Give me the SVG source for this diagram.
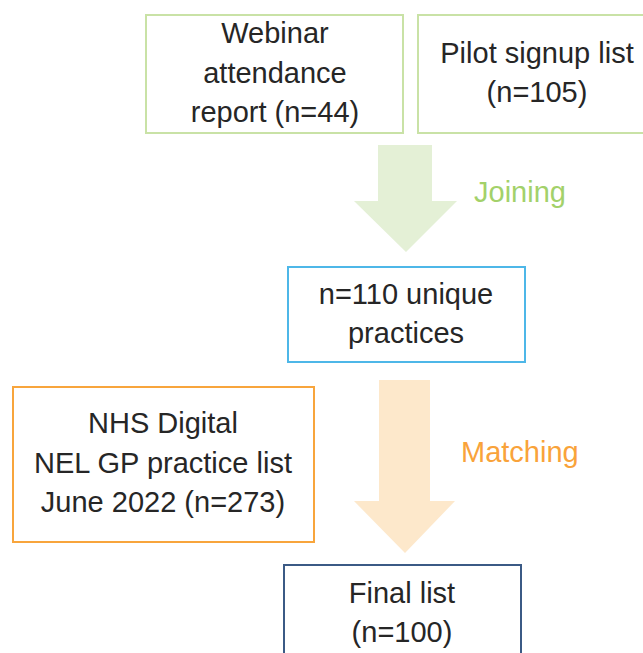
<svg xmlns="http://www.w3.org/2000/svg" width="643" height="653" viewBox="0 0 643 653">
  <style>
    .box { fill: #ffffff; stroke-width: 2; }
    .label { font-family: "Liberation Sans", Arial, sans-serif; font-size: 29px; fill: #262626; text-anchor: middle; }
    .step { font-family: "Liberation Sans", Arial, sans-serif; font-size: 29px; }
  </style>
  <rect width="643" height="653" fill="#ffffff"/>

  <!-- flow arrows -->
  <g id="connectors">
    <polygon points="378,145 432,145 432,201 457,201 406,252 354,201 378,201" fill="#E4F0D6"/>
    <polygon points="379,380 430,380 430,501 455,501 405,553 354,501 379,501" fill="#FDE8CB"/>
    <text class="step" x="474" y="202" fill="#A3D16A">Joining</text>
    <text class="step" x="461" y="462" fill="#F9A33A">Matching</text>
  </g>

  <g id="webinar">
    <rect class="box" x="146" y="15" width="257" height="118" stroke="#C9E2A6"/>
    <text class="label" x="275" y="43">Webinar</text>
    <text class="label" x="275" y="83">attendance</text>
    <text class="label" x="275" y="122">report (n=44)</text>
  </g>

  <g id="pilot">
    <rect class="box" x="418" y="15" width="250" height="118" stroke="#C9E2A6"/>
    <text class="label" x="537" y="63">Pilot signup list</text>
    <text class="label" x="537" y="102">(n=105)</text>
  </g>

  <g id="unique">
    <rect class="box" x="288" y="267" width="237" height="95" stroke="#4DB7E8"/>
    <text class="label" x="406" y="304">n=110 unique</text>
    <text class="label" x="406" y="343">practices</text>
  </g>

  <g id="nhs">
    <rect class="box" x="13" y="387" width="301" height="155" stroke="#F8A53C"/>
    <text class="label" x="163" y="433">NHS Digital</text>
    <text class="label" x="163" y="473">NEL GP practice list</text>
    <text class="label" x="163" y="512">June 2022 (n=273)</text>
  </g>

  <g id="final">
    <rect class="box" x="284" y="565" width="237" height="120" stroke="#3B5A85"/>
    <text class="label" x="402" y="603">Final list</text>
    <text class="label" x="402" y="642">(n=100)</text>
  </g>
</svg>
